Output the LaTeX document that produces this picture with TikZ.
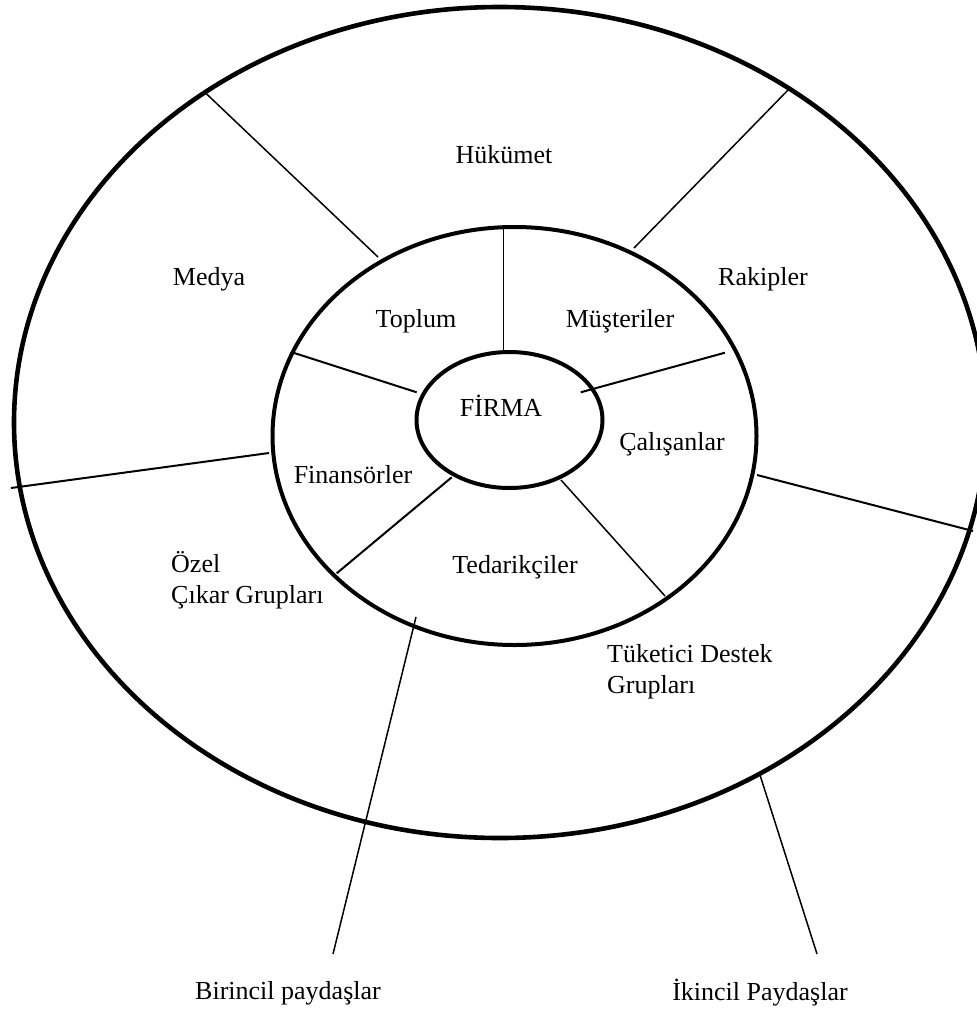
\documentclass[tikz,border=0pt]{standalone}
\usepackage{fontspec}
\setmainfont{Liberation Serif}
\begin{document}
\begin{tikzpicture}[x=1pt,y=-1pt,
  ring/.style={line width=4pt},
  thin divider/.style={line width=1.5pt},
  divider/.style={line width=2pt},
  lbl/.style={inner sep=0pt, font=\fontsize{26}{31}\selectfont, align=left}]
\useasboundingbox (0,0) rectangle (977,1012);

% three nested rings (the outer one runs slightly past the right edge)
\begin{scope}
\clip (0,0) rectangle (977,1012);
\draw[ring, line width=4.6pt] (500,422.5) ellipse [x radius=486pt, y radius=415.5pt];
\end{scope}
\draw[ring] (514.5,436) ellipse [x radius=242pt, y radius=209pt];
\draw[ring] (509.5,420) ellipse [x radius=93pt, y radius=68pt];

% end points of the dividers
\coordinate (o1a) at (205.6,93);   \coordinate (o1b) at (378,257);
\coordinate (o2a) at (790,88);     \coordinate (o2b) at (634,248);
\coordinate (o3a) at (269,453);    \coordinate (o3b) at (11,488);
\coordinate (o4a) at (757,475);    \coordinate (o4b) at (973,531);
\coordinate (i1a) at (503.3,227);  \coordinate (i1b) at (503.3,351);
\coordinate (i2a) at (293.3,352.7);\coordinate (i2b) at (416.7,392.3);
\coordinate (i3a) at (725,352.7);  \coordinate (i3b) at (580.7,392.3);
\coordinate (i4a) at (336.7,573.3);\coordinate (i4b) at (451.7,477.3);
\coordinate (i5a) at (561,480);    \coordinate (i5b) at (665,596);
\coordinate (p1a) at (416,617);    \coordinate (p1b) at (333,954);
\coordinate (p2a) at (760,775);    \coordinate (p2b) at (817,954);

% outer ring dividers
\draw[thin divider] (o1a) -- (o1b);
\draw[thin divider] (o2a) -- (o2b);
\draw[divider] (o3a) -- (o3b);
\draw[divider] (o4a) -- (o4b);

% middle ring dividers
\draw[thin divider] (i1a) -- (i1b);
\draw[divider] (i2a) -- (i2b);
\draw[divider] (i3a) -- (i3b);
\draw[divider] (i4a) -- (i4b);
\draw[thin divider] (i5a) -- (i5b);

% pointers to the captions
\draw[thin divider] (p1a) -- (p1b);
\draw[thin divider] (p2a) -- (p2b);

% labels
\node[lbl] (firma) at (501,406) {FİRMA};
\node[lbl] (hukumet) at (504,155) {Hükümet};
\node[lbl] (medya) at (209,279) {Medya};
\node[lbl] (rakipler) at (763,279) {Rakipler};
\node[lbl] (toplum) at (416,321) {Toplum};
\node[lbl] (musteriler) at (620,321) {Müşteriler};
\node[lbl] (calisanlar) at (672,444) {Çalışanlar};
\node[lbl] (finansorler) at (353,475) {Finansörler};
\node[lbl] (tedarikciler) at (515,567) {Tedarikçiler};
\node[lbl, anchor=west] (ozel) at (171,580) {Özel\\Çıkar Grupları};
\node[lbl, anchor=west] (tuketici) at (607,672) {Tüketici Destek\\Grupları};
\node[lbl] (birincil) at (288,993) {Birincil paydaşlar};
\node[lbl] (ikincil) at (760,993) {İkincil Paydaşlar};
\end{tikzpicture}
\end{document}
